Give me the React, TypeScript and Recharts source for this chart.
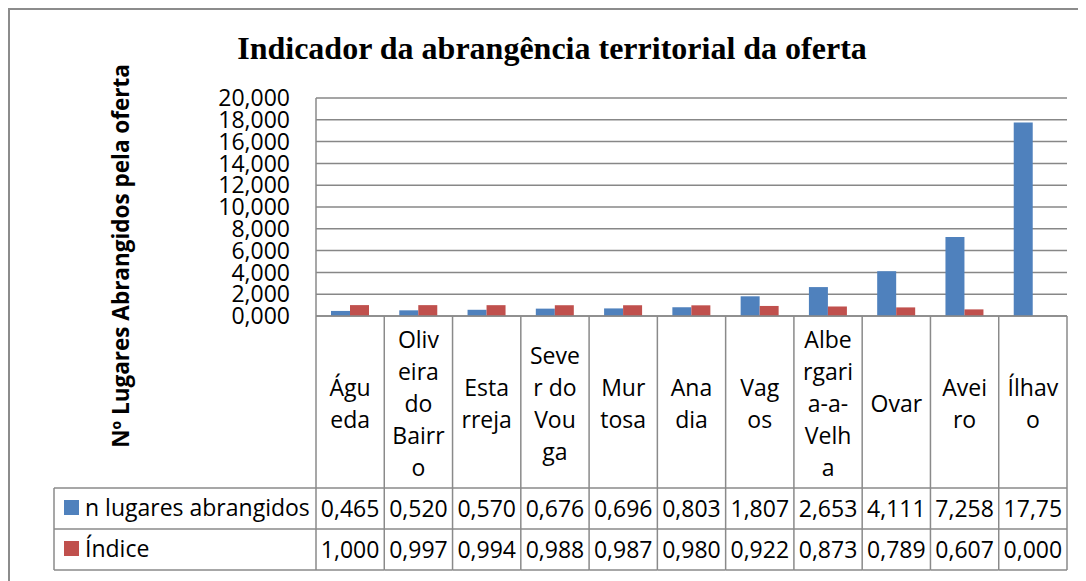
import React from "react";
import { BarChart, Bar, XAxis, YAxis, CartesianGrid, Customized } from "recharts";

const categories = [
  "Águeda",
  "Oliveira do Bairro",
  "Estarreja",
  "Sever do Vouga",
  "Murtosa",
  "Anadia",
  "Vagos",
  "Albergaria-a-Velha",
  "Ovar",
  "Aveiro",
  "Ílhavo",
];
// wrapped as in the narrow table cells
const categoryLines = [
  ["Águ", "eda"],
  ["Oliv", "eira", "do", "Bairr", "o"],
  ["Esta", "rreja"],
  ["Seve", "r do", "Vou", "ga"],
  ["Mur", "tosa"],
  ["Ana", "dia"],
  ["Vag", "os"],
  ["Albe", "rgari", "a-a-", "Velh", "a"],
  ["Ovar"],
  ["Avei", "ro"],
  ["Ílhav", "o"],
];
const lugares = [0.465, 0.52, 0.57, 0.676, 0.696, 0.803, 1.807, 2.653, 4.111, 7.258, 17.75];
const indice = [1.0, 0.997, 0.994, 0.988, 0.987, 0.98, 0.922, 0.873, 0.789, 0.607, 0.0];
const yTicks = [0, 2, 4, 6, 8, 10, 12, 14, 16, 18, 20];

const seriesNames = ["n lugares abrangidos", "Índice"];
const seriesColors = ["#4f81bd", "#c0504d"];

const data = categories.map((name, i) => ({ name, lugares: lugares[i], indice: indice[i] }));

const W = 1078;
const H = 573;
const PLOT_LEFT = 308;
const PLOT_RIGHT = 1059;
const PLOT_TOP = 90;
const PLOT_BOTTOM = 308;
const ROW1 = 480;
const ROW2 = 521;
const ROW3 = 562;
const TABLE_LEFT = 46;
const COL_W = (PLOT_RIGHT - PLOT_LEFT) / categories.length;
const LINE = "#8a8a8a";
const FONT = "'Open Sans', sans-serif";

const fmt = (v: number) => v.toFixed(3).replace(".", ",").slice(0, 5);

function CategoryTick(props: any) {
  const { x, payload } = props;
  const i = categories.indexOf(payload.value);
  const lines = categoryLines[i] || [payload.value];
  const left = x - COL_W / 2;
  const right = x + COL_W / 2;
  const mid = (PLOT_BOTTOM + ROW1) / 2 + 2;
  const lh = 32;
  const first = mid - ((lines.length - 1) * lh) / 2;
  return (
    <g fontFamily={FONT} fontSize={23} fill="#000">
      {i === 0 && <line x1={left} x2={left} y1={PLOT_BOTTOM} y2={ROW3} stroke={LINE} strokeWidth={1.5} />}
      <line x1={right} x2={right} y1={PLOT_BOTTOM} y2={ROW3} stroke={LINE} strokeWidth={1.5} />
      {[ROW1, ROW2, ROW3].map((r) => (
        <line key={r} x1={left} x2={right} y1={r} y2={r} stroke={LINE} strokeWidth={1.5} />
      ))}
      {lines.map((t, k) => (
        <text key={k} x={x} y={first + k * lh + 8} textAnchor="middle">
          {t}
        </text>
      ))}
      <text x={x} y={(ROW1 + ROW2) / 2 + 8} textAnchor="middle">
        {fmt(lugares[i])}
      </text>
      <text x={x} y={(ROW2 + ROW3) / 2 + 8} textAnchor="middle">
        {fmt(indice[i])}
      </text>
    </g>
  );
}

function Extras() {
  const rows = [ROW1, ROW2];
  return (
    <g>
      <text
        x={544}
        y={51}
        textAnchor="middle"
        fontFamily="'Liberation Serif', 'Times New Roman', serif"
        fontWeight="bold"
        fontSize={32}
        fill="#000"
      >
        Indicador da abrangência territorial da oferta
      </text>
      <text
        x={0}
        y={0}
        transform="translate(121,248) rotate(-90)"
        textAnchor="middle"
        fontFamily={FONT}
        fontWeight="bold"
        fontSize={22.5}
        fill="#000"
      >
        Nº Lugares Abrangidos pela oferta
      </text>
      <line x1={TABLE_LEFT} x2={TABLE_LEFT} y1={ROW1} y2={ROW3} stroke={LINE} strokeWidth={1.5} />
      {[ROW1, ROW2, ROW3].map((r) => (
        <line key={r} x1={TABLE_LEFT} x2={PLOT_LEFT} y1={r} y2={r} stroke={LINE} strokeWidth={1.5} />
      ))}
      {rows.map((r, k) => (
        <g key={k}>
          <rect x={56} y={r + 12} width={15} height={15} fill={seriesColors[k]} />
          <text x={77} y={r + 28} fontFamily={FONT} fontSize={23} fill="#000">
            {seriesNames[k]}
          </text>
        </g>
      ))}
    </g>
  );
}

export default function App() {
  return (
    <div style={{ position: "relative", width: W, height: H }}>
      <div
        style={{
          position: "absolute",
          left: 0,
          top: 0,
          width: W + 20,
          height: H + 20,
          borderTop: "2px solid #8c8c8c",
          borderLeft: "2px solid #8c8c8c",
          boxSizing: "border-box",
        }}
      />
      <div style={{ position: "absolute", left: 0, top: 0 }}>
        <BarChart
          width={W}
          height={H}
          data={data}
          margin={{ top: PLOT_TOP, right: W - PLOT_RIGHT, bottom: H - ROW3, left: 0 }}
          barGap={0}
        >
          <CartesianGrid horizontal vertical={false} stroke="#878787" strokeWidth={1.5} />
          <YAxis
            width={PLOT_LEFT}
            domain={[0, 20]}
            ticks={yTicks}
            interval={0}
            tickFormatter={(v: number) => v.toFixed(3).replace(".", ",")}
            tickSize={0}
            tickMargin={26}
            axisLine={{ stroke: LINE, strokeWidth: 1.5 }}
            tick={{ fill: "#000", fontFamily: FONT, fontSize: 23 }}
          />
          <XAxis
            dataKey="name"
            height={ROW3 - PLOT_BOTTOM}
            interval={0}
            tickLine={false}
            tickSize={0}
            axisLine={{ stroke: LINE, strokeWidth: 1.5 }}
            tick={<CategoryTick />}
          />
          <Bar dataKey="lugares" name={seriesNames[0]} fill={seriesColors[0]} barSize={19} isAnimationActive={false} />
          <Bar dataKey="indice" name={seriesNames[1]} fill={seriesColors[1]} barSize={19} isAnimationActive={false} />
          <Customized component={<Extras />} />
        </BarChart>
      </div>
    </div>
  );
}
